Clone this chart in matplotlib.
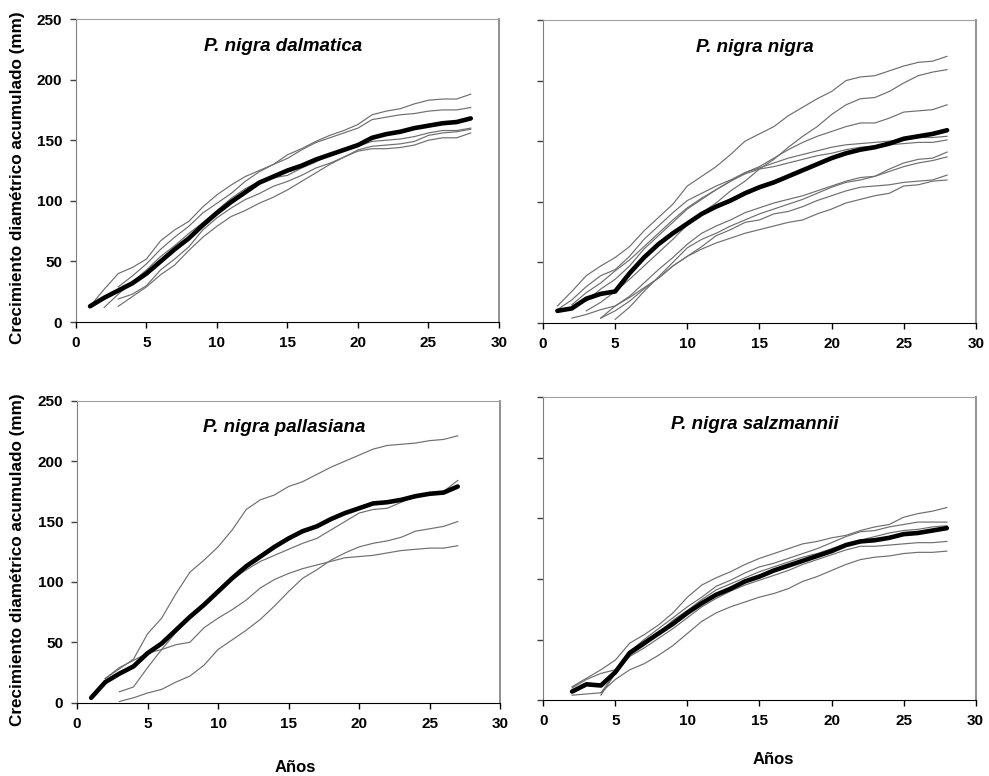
import matplotlib
matplotlib.use('Agg')
import matplotlib.pyplot as plt

plt.rcParams['font.family'] = ['Liberation Sans', 'DejaVu Sans']

# P. nigra dalmatica
dal_mean_start = 1
dal_mean = [13, 20, 26, 32, 40, 50, 60, 69, 80, 90, 99, 107, 115, 120, 125, 129, 134, 138, 142, 146,
            152, 155, 157, 160, 162, 164, 165, 168]
dal_trees = [
    (1, [13, 27, 40, 45, 52, 67, 76, 83, 95, 105, 113, 120, 125, 130, 138, 143, 149, 154, 158, 163,
         171, 174, 176, 180, 183, 184, 184, 188]),
    (3, [29, 38, 48, 60, 70, 79, 90, 98, 106, 116, 124, 130, 135, 142, 148, 152, 156, 160, 167, 169,
         171, 172, 174, 175, 175, 177]),
    (2, [12, 23, 33, 43, 54, 63, 73, 82, 92, 102, 110, 116, 119, 121, 127, 132, 138, 142, 145, 149,
         150, 151, 153, 156, 158, 158, 160]),
    (3, [19, 23, 30, 43, 52, 62, 76, 86, 94, 101, 106, 112, 116, 121, 127, 131, 136, 142, 145, 146,
         147, 149, 154, 156, 157, 159]),
    (3, [13, 21, 29, 39, 47, 59, 70, 79, 87, 92, 98, 103, 109, 116, 123, 130, 136, 141, 143, 143,
         144, 146, 150, 152, 152, 156]),
]

# P. nigra nigra
nig_mean_start = 1
nig_mean = [10, 12, 20, 24, 26, 41, 54, 65, 74, 82, 90, 96, 101, 107, 112, 116, 121, 126, 131, 136,
            140, 143, 145, 148, 152, 154, 156, 159]
nig_trees = [
    (1, [14, 26, 39, 47, 54, 63, 76, 87, 98, 113, 121, 129, 139, 150, 156, 162, 171, 178, 185, 191,
         200, 203, 204, 208, 212, 215, 216, 220]),
    (3, [10, 17, 26, 36, 47, 58, 69, 81, 91, 99, 109, 117, 127, 135, 145, 154, 162, 172, 180, 185,
         186, 191, 198, 204, 207, 209]),
    (2, [15, 25, 33, 43, 52, 63, 74, 85, 95, 103, 110, 117, 124, 129, 136, 143, 149, 154, 158, 162,
         165, 165, 169, 174, 175, 176, 180]),
    (1, [11, 19, 30, 39, 44, 55, 69, 80, 91, 101, 107, 113, 118, 124, 128, 132, 136, 139, 142, 145,
         147, 148, 149, 150, 151, 153, 153, 154]),
    (3, [18, 28, 36, 47, 61, 72, 83, 94, 102, 110, 117, 123, 127, 129, 132, 135, 138, 140, 143, 145,
         146, 147, 148, 149, 149, 151]),
    (4, [4, 14, 22, 33, 44, 54, 65, 74, 80, 85, 91, 95, 99, 102, 105, 109, 113, 117, 120, 121,
         127, 132, 135, 136, 141]),
    (5, [3, 13, 26, 38, 50, 62, 69, 74, 80, 85, 90, 94, 98, 102, 107, 112, 116, 118, 121, 125,
         129, 132, 134, 137]),
    (2, [4, 7, 11, 14, 21, 29, 37, 47, 55, 63, 72, 77, 83, 85, 90, 92, 96, 101, 105, 109,
         112, 113, 114, 116, 117, 118, 122]),
    (4, [4, 10, 18, 28, 37, 47, 55, 61, 66, 70, 74, 77, 80, 83, 85, 90, 94, 99, 102, 105,
         107, 113, 114, 117, 118]),
]

# P. nigra pallasiana
pal_mean_start = 1
pal_mean = [4, 17, 24, 30, 41, 49, 60, 71, 81, 92, 103, 113, 121, 129, 136, 142, 146, 152, 157, 161,
            165, 166, 168, 171, 173, 174, 179]
pal_trees = [
    (2, [20, 28, 36, 57, 70, 90, 108, 118, 129, 143, 160, 168, 172, 179, 183, 189, 195, 200, 205, 210,
         213, 214, 215, 217, 218, 221]),
    (3, [9, 13, 29, 44, 58, 71, 82, 93, 102, 110, 117, 122, 127, 132, 136, 143, 150, 157, 160, 161,
         166, 171, 173, 175, 184]),
    (2, [20, 29, 35, 41, 44, 48, 50, 62, 70, 77, 85, 95, 102, 107, 111, 114, 117, 120, 121, 122,
         124, 126, 127, 128, 128, 130]),
    (3, [1, 4, 8, 11, 17, 22, 31, 44, 52, 60, 69, 80, 92, 103, 110, 118, 124, 129, 132, 134,
         137, 142, 144, 146, 150]),
]

# P. nigra salzmannii
sal_mean_start = 2
sal_mean = [7, 13, 12, 23, 39, 47, 55, 63, 72, 80, 87, 92, 98, 102, 107, 111, 115, 119, 123, 128,
            131, 132, 134, 137, 138, 140, 142]
sal_trees = [
    (2, [11, 18, 25, 33, 47, 54, 62, 72, 85, 95, 101, 106, 112, 117, 121, 125, 129, 131, 134, 136,
         140, 143, 145, 151, 154, 156, 159]),
    (2, [10, 17, 22, 25, 40, 50, 59, 68, 77, 85, 94, 99, 105, 110, 113, 117, 121, 125, 130, 135,
         139, 140, 143, 145, 147, 147, 147]),
    (4, [4, 22, 37, 45, 55, 66, 74, 83, 91, 96, 101, 106, 110, 114, 118, 121, 125, 129, 132, 135,
         138, 140, 141, 143, 144]),
    (2, [4, 5, 6, 22, 36, 43, 51, 59, 68, 77, 84, 90, 95, 99, 103, 107, 112, 116, 120, 124,
         127, 127, 128, 129, 130, 130, 131]),
    (4, [6, 17, 25, 30, 37, 45, 55, 65, 72, 77, 81, 85, 88, 92, 98, 102, 107, 112, 116, 118,
         119, 121, 122, 122, 123]),
]

panels = [
    ('P. nigra dalmatica', dal_mean_start, dal_mean, dal_trees, [0.0768, 0.585, 0.4277, 0.3905], True),
    ('P. nigra nigra', nig_mean_start, nig_mean, nig_trees, [0.549, 0.5838, 0.4378, 0.3905], False),
    ('P. nigra pallasiana', pal_mean_start, pal_mean, pal_trees, [0.0779, 0.0945, 0.4277, 0.389], True),
    ('P. nigra salzmannii', sal_mean_start, sal_mean, sal_trees, [0.5493, 0.0979, 0.4372, 0.390], False),
]

fig = plt.figure(figsize=(9.89, 7.76), dpi=100)

for title, m_start, m_vals, trees, rect, show_y in panels:
    ax = fig.add_axes(rect)

    # arboles individuales
    for start, vals in trees:
        years = list(range(start, start + len(vals)))
        ax.plot(years, vals, color='#6e6e6e', linewidth=0.85)

    # media
    years = list(range(m_start, m_start + len(m_vals)))
    ax.plot(years, m_vals, color='black', linewidth=3.3, solid_capstyle='round')

    ax.set_xlim(0, 30)
    ax.set_ylim(0, 250)
    ax.set_xticks(range(0, 31, 5))
    ax.set_yticks(range(0, 251, 50))

    ax.text(0.49, 0.91, title, transform=ax.transAxes, ha='center', va='center',
            fontsize=13.5, fontweight='bold', fontstyle='italic')

    ax.spines['top'].set_color('#a0a0a0')
    ax.spines['right'].set_color('#909090')
    ax.spines['right'].set_linewidth(1.4)
    ax.spines['left'].set_color('#808080')
    ax.spines['bottom'].set_color('black')

    ax.tick_params(axis='both', direction='out', length=4, width=1, labelsize=11, pad=6)
    ax.tick_params(axis='y', colors='#404040', labelcolor='black')
    for lab in ax.get_xticklabels() + ax.get_yticklabels():
        lab.set_fontweight('bold')
    if not show_y:
        ax.set_yticklabels([])

# Titoli assi
fig.text(18 / 989, 1 - 178 / 776, 'Crecimiento diamétrico acumulado (mm)', rotation=90,
         ha='center', va='center', fontsize=12.3, fontweight='bold')
fig.text(18 / 989, 1 - 560 / 776, 'Crecimiento diamétrico acumulado (mm)', rotation=90,
         ha='center', va='center', fontsize=12.3, fontweight='bold')
fig.text(295 / 989, 1 - 767 / 776, 'Años', ha='center', va='center', fontsize=12, fontweight='bold')
fig.text(773 / 989, 1 - 760 / 776, 'Años', ha='center', va='center', fontsize=12, fontweight='bold')

fig.savefig('out.png', dpi=100)
